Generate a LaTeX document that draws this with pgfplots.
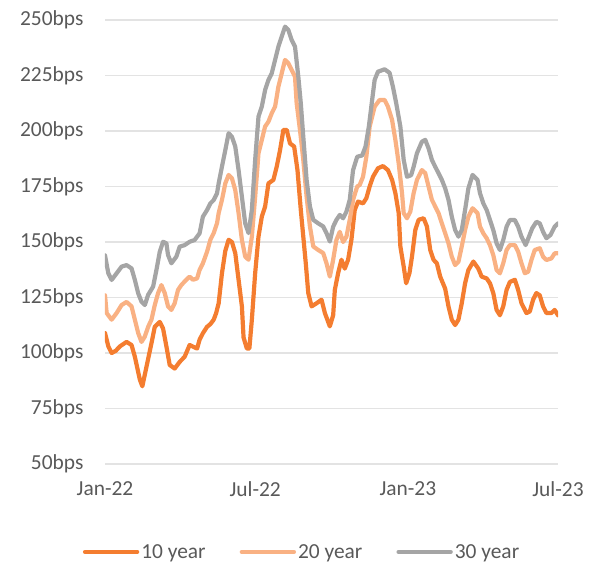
\documentclass[border=0pt]{standalone}
\usepackage{fontspec}
\setmainfont{Carlito}
\usepackage{pgfplots}
\pgfplotsset{compat=1.18}
\definecolor{tenyr}{HTML}{F47D30}
\definecolor{twentyyr}{HTML}{F9B183}
\definecolor{thirtyyr}{HTML}{A5A5A5}
\definecolor{txt}{HTML}{595959}
\definecolor{gridc}{HTML}{E3E3E3}
\begin{document}
\begin{tikzpicture}
\path[use as bounding box] (-105bp,-102bp) rectangle (489bp,464bp);
\begin{axis}[
  at={(0,0)}, anchor=south west,
  scale only axis, width=453bp, height=444bp,
  xmin=0, xmax=546, ymin=50, ymax=250,
  xtick={0,181,365,546},
  xticklabels={Jan-22,Jul-22,Jan-23,Jul-23},
  ytick={50,75,100,125,150,175,200,225,250},
  yticklabel={\pgfmathprintnumber{\tick}bps},
  /pgf/number format/assume math mode=true,
  axis line style={draw=none},
  major tick length=0pt,
  ymajorgrids, grid style={gridc, line width=1.6bp},
  tick label style={font=\fontsize{21.5}{24}\selectfont, text=txt},
  yticklabel style={anchor=east, xshift=-18bp},
  xticklabel style={anchor=north, yshift=-14bp},
  legend columns=3,
  legend style={at={(0.435,-0.198)}, anchor=center, draw=none, fill=none,
    font=\fontsize{21.5}{24}\selectfont, text=txt, inner sep=0pt,
    /tikz/every even column/.append style={column sep=32bp}},
  legend image code/.code={\draw[#1, line width=4.4bp, line cap=round] (0bp,0bp) -- (52bp,0bp);},
  every axis plot/.append style={line width=4.2bp, line join=round, line cap=round},
]
\addplot[tenyr] coordinates {
(0,109)(4,103)(8,100)(13,101)(18,103)(26,105)(32,103.6)(36,98.3)(42,88)(45,85)(50,93.8)(56,104.4)(60,111.8)(66,114)(70,111)(74,103)(78,94.6)(84,93)(90,96)(96,98.3)(102,103.6)(111,102)(114,106)(118,108.9)(123,111.8)(127,113)(131,115)(134,118)(137,122.4)(141,136)(145,146)(149,151)(153,150)(157,145)(161,133)(165,121)(167,107)(171,102)(174,102)(177,115)(181,136)(185,152.4)(189,161.4)(193,166)(197,176.4)(203,178)(207,184)(211,191.4)(215,200.5)(219,200.5)(223,194.4)(228,193)(232,182.4)(236,164.4)(239,152.4)(242,140.4)(245,127)(249,121)(255,122.4)(261,124)(265,118)(271,112)(275,117)(277,128.4)(281,136)(285,142)(289,138)(293,142)(297,151)(301,164.4)(305,168.2)(311,167.4)(315,169.7)(319,175)(323,179.4)(329,183.2)(335,184.2)(341,182.4)(346,178)(350,172)(354,163)(356,148)(360,139)(363,131.4)(367,136)(370,143.4)(374,155.4)(378,160)(384,160.7)(388,157)(392,146.4)(396,142)(400,140.4)(404,134.4)(410,129)(414,121)(418,115)(422,112.6)(426,115)(430,122.4)(434,131.4)(438,137.4)(444,141.2)(450,138)(454,134.4)(460,133.6)(464,131.4)(468,127)(472,119.4)(476,117)(480,121)(484,128.4)(488,132)(494,133)(498,128.4)(502,122.4)(508,118)(512,118.7)(516,124)(520,127)(524,126)(528,121)(532,118)(538,118)(542,119.4)(546,117)
};
\addlegendentry{10 year}
\addplot[twentyyr] coordinates {
(0,126)(2,118)(8,115)(14,118)(20,121.6)(26,123)(32,121)(36,115)(40,109)(44,105)(48,107.4)(52,111.8)(56,115)(60,121.6)(64,127)(68,130.6)(72,127)(76,121)(80,119.4)(84,122.4)(88,128.4)(92,130.6)(98,133)(102,134.4)(106,133)(111,133.6)(114,137.4)(118,140.4)(123,145.6)(127,151)(131,154)(135,158.4)(137,163)(141,169)(145,176.4)(149,180.2)(153,178.7)(157,173.4)(161,163)(165,151)(169,143.4)(173,142)(177,152.4)(181,170.4)(185,190)(189,196)(193,202)(197,204.2)(201,208)(205,211)(209,220)(213,226)(217,232)(221,230.5)(225,227.5)(229,224.5)(231,212.5)(235,200.5)(239,187)(243,170.4)(247,157)(251,148)(257,146.4)(263,145)(267,140.4)(271,134.4)(275,142)(279,151)(283,154.6)(287,150)(291,152.4)(295,160)(299,169)(304,175)(307,175.7)(311,179.4)(315,188.4)(319,202)(325,211)(331,214)(337,214)(341,211)(346,205)(350,196)(354,185.4)(358,172)(360,163)(364,160.7)(368,163.7)(372,172)(376,178)(382,182.4)(386,181)(390,175)(394,169)(398,166)(402,163)(406,158.4)(410,154)(414,149.4)(418,143.4)(422,139.6)(426,141.1)(430,148)(434,155.4)(438,161.4)(443,165.2)(449,163)(452,156.9)(456,153.9)(460,151.7)(464,148.6)(468,144.1)(472,137.4)(476,135.9)(480,140.4)(484,146.4)(488,148.6)(494,148.6)(498,145.6)(502,140.4)(506,135.9)(510,136.6)(514,141.9)(518,146.4)(524,147.2)(528,143.4)(532,141.9)(538,142.6)(542,144.9)(546,144.9)
};
\addlegendentry{20 year}
\addplot[thirtyyr] coordinates {
(0,144)(4,135.9)(8,132.9)(14,135.9)(20,138.9)(26,139.6)(32,138.1)(36,132.9)(40,126.9)(44,123.1)(48,121.6)(52,126.2)(58,129.9)(62,137.4)(66,145.6)(70,150.1)(74,149.4)(76,144.1)(80,140.4)(86,143.4)(90,147.9)(96,148.6)(102,150.1)(108,150.9)(114,153.9)(118,161.4)(123,164.4)(127,167.4)(131,168.9)(135,171.9)(137,176.4)(141,184)(145,191.4)(149,199)(153,197.4)(157,193)(161,182.4)(165,170.4)(169,158.4)(173,154)(177,164.4)(181,187)(185,206.5)(189,211)(193,218.5)(197,223)(201,226)(205,232)(209,238)(213,242.5)(217,247)(221,245.5)(225,241)(229,238)(233,224.5)(236,212.5)(239,197.4)(243,178)(247,166)(251,160)(257,158.4)(263,157)(267,154)(271,150.2)(275,156.9)(279,160)(283,162.2)(287,160.7)(291,163.7)(295,169)(299,182.4)(304,188.4)(310,189)(314,193)(318,202)(322,214)(325,223)(329,226.7)(337,227.8)(343,226.2)(347,220)(351,212.5)(356,202)(360,187)(364,179.4)(369,180.1)(372,183.9)(376,190)(382,195.2)(386,196)(390,192.2)(394,187)(398,183.9)(402,181)(406,178)(410,174.2)(414,169)(418,161.4)(422,155.4)(426,152.4)(430,155.4)(434,164.4)(438,174.2)(443,180.2)(449,178)(452,171.9)(456,167.4)(460,164.4)(464,159.9)(468,155.4)(472,149.4)(476,146.4)(480,150.9)(484,156.9)(488,159.9)(494,159.9)(498,156.9)(502,152.4)(507,148.6)(511,152.4)(515,156.2)(520,159.1)(524,158.4)(528,154.6)(532,151.7)(537,153.2)(542,156.9)(546,158.4)
};
\addlegendentry{30 year}
\end{axis}
\end{tikzpicture}
\end{document}
